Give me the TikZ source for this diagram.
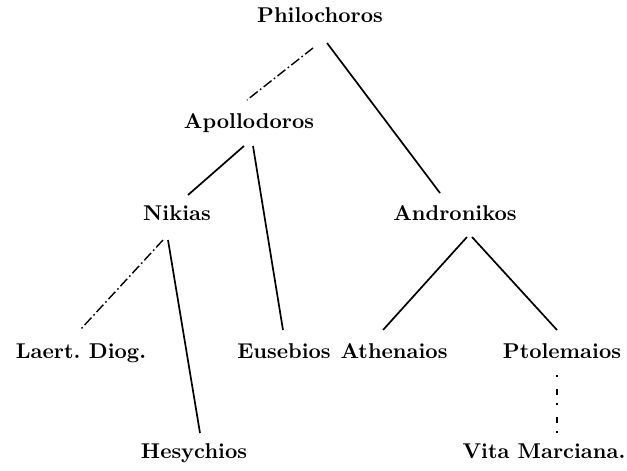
\documentclass[tikz,border=0pt]{standalone}
\usepackage{xcolor}
\usepackage{tikz}

\tikzset{
  person/.style = {font=\fontsize{10.7}{12}\selectfont\bfseries, inner sep=0pt,
                   text height=1.6ex, text depth=.3ex},
  line/.style = {line width=0.85pt},
  doubtful/.style = {line width=0.7pt, dash pattern=on 5pt off 1.5pt on 0.8pt off 1.5pt},
  loose/.style = {line width=0.7pt, dash pattern=on 1pt off 6pt on 3pt off 4pt},
}

\begin{document}
\begin{tikzpicture}[x=0.5pt, y=-0.5pt]
  \useasboundingbox (0,0) rectangle (627,471);

  % names
  \node[person] (phil)  at (320,17)  {Philochoros};
  \node[person] (apol)  at (249,123) {Apollodoros};
  \node[person] (nik)   at (177,215) {Nikias};
  \node[person] (andr)  at (455,215) {Andronikos};
  \node[person] (laert) at (81,353)  {Laert.\hspace{0.4em}Diog.};
  \node[person] (euseb) at (284,353) {Eusebios};
  \node[person] (athen) at (394,353) {Athenaios};
  \node[person] (ptol)  at (562,353) {Ptolemaios};
  \node[person] (hesy)  at (194,453) {Hesychios};
  \node[person] (vita)  at (544,453) {Vita Marciana.};

  % links
  \draw[doubtful] ([shift={(-7,31)}]phil.center) -- ([shift={(-2,-23)}]apol.center);
  \draw[line] ([shift={(7,26)}]phil.center) -- ([shift={(-15,-22)}]andr.center);
  \draw[line] ([shift={(-5,23)}]apol.center) -- ([shift={(11,-20)}]nik.center);
  \draw[line] ([shift={(4,23)}]apol.center) -- ([shift={(-1,-23)}]euseb.center);
  \draw[doubtful] ([shift={(-14,25)}]nik.center) -- ([shift={(-1,-23)}]laert.center);
  \draw[line] ([shift={(-9,25)}]nik.center) -- ([shift={(6,-20)}]hesy.center);
  \draw[line] ([shift={(12,22)}]andr.center) -- ([shift={(-11,-23)}]athen.center);
  \draw[line] ([shift={(17,22)}]andr.center) -- ([shift={(-5,-23)}]ptol.center);
  \draw[loose] ([shift={(-5,22)}]ptol.center) -- ([shift={(13,-18)}]vita.center);
\end{tikzpicture}
\end{document}
